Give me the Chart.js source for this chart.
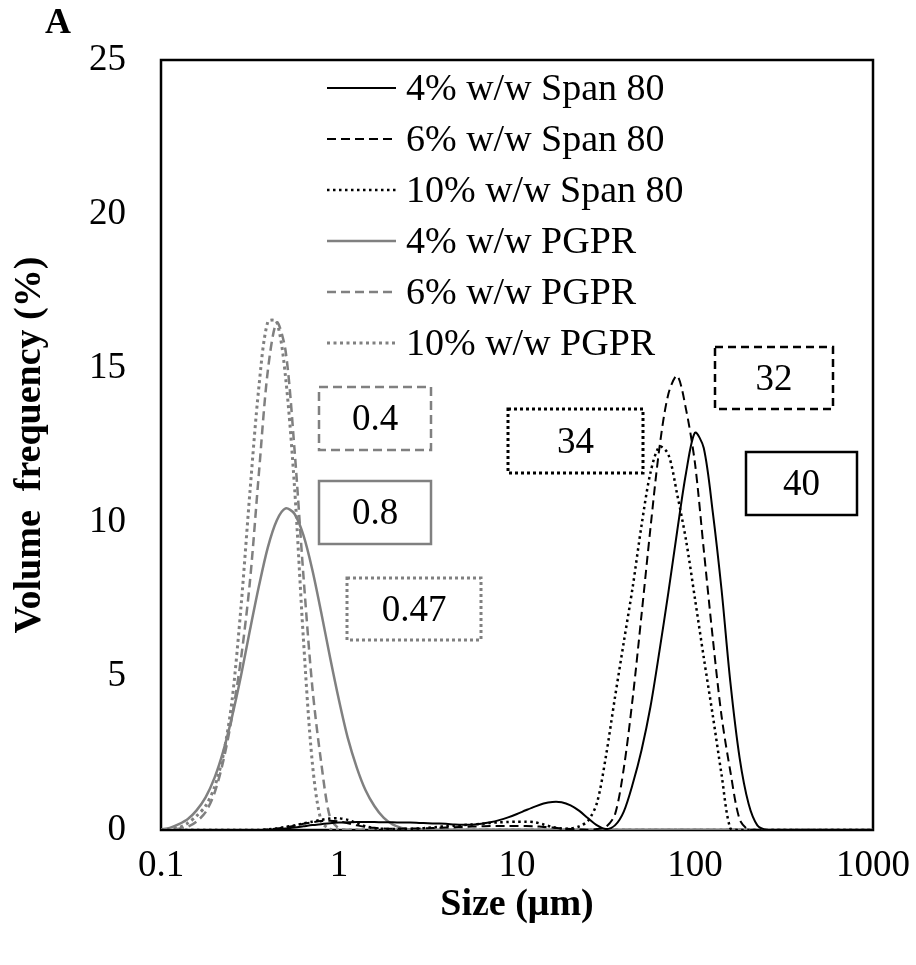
<!DOCTYPE html>
<html><head><meta charset="utf-8">
<script src="https://cdn.jsdelivr.net/npm/chart.js@4.4.1/dist/chart.umd.min.js"></script>
<style>html,body{margin:0;padding:0;background:#fff;}#wrap{width:916px;height:965px;position:relative;}</style>
</head><body><div id="wrap"><canvas id="c" width="916" height="965"></canvas></div>
<script>
// Particle size (µm), log-spaced bins
const sizes = [
  0.1,0.112,0.126,0.141,0.158,0.178,0.2,0.224,0.251,0.282,0.316,0.355,0.398,0.447,0.501,0.562,0.631,0.708,0.794,0.891,
  1,1.12,1.26,1.41,1.58,1.78,2,2.24,2.51,2.82,3.16,3.55,3.98,4.47,5.01,5.62,6.31,7.08,7.94,8.91,
  10,11.2,12.6,14.1,15.8,17.8,20,22.4,25.1,28.2,31.6,35.5,39.8,44.7,50.1,56.2,63.1,70.8,79.4,89.1,
  100,112,126,141,158,178,200,224,251,282,316,355,398,447,501,562,631,708,794,891,
  1000];

const span4 = [
  0,0,0,0,0,0,0,0,0,0,0,0,0.01,0.02,0.05,0.08,0.12,0.16,0.19,0.22,
  0.24,0.25,0.26,0.26,0.26,0.25,0.25,0.24,0.24,0.23,0.22,0.21,0.2,0.18,0.17,0.17,0.2,0.25,0.32,0.41,
  0.52,0.64,0.76,0.86,0.91,0.9,0.8,0.62,0.38,0.15,0.03,0.15,0.6,1.5,2.6,4.0,5.8,7.7,9.7,11.6,
  12.9,12.4,10.3,7.8,4.8,2.35,0.85,0.15,0,0,0,0,0,0,0,0,0,0,0,0,
  0];
const span6 = [
  0,0,0,0,0,0,0,0,0,0,0,0,0.02,0.05,0.09,0.14,0.2,0.25,0.29,0.3,
  0.28,0.22,0.15,0.1,0.07,0.05,0.04,0.04,0.05,0.05,0.06,0.07,0.08,0.09,0.1,0.11,0.12,0.13,0.13,0.13,
  0.13,0.13,0.12,0.1,0.08,0.05,0.03,0.02,0.01,0.03,0.1,0.5,2.0,4.3,7.0,9.8,12.4,14.15,14.75,13.65,
  11.9,9.1,6.2,3.7,1.9,0.35,0,0,0,0,0,0,0,0,0,0,0,0,0,0,
  0];
const span10 = [
  0,0,0,0,0,0,0,0,0,0,0,0,0.02,0.05,0.1,0.15,0.21,0.27,0.33,0.37,
  0.38,0.33,0.22,0.12,0.06,0.04,0.03,0.03,0.04,0.05,0.07,0.1,0.12,0.14,0.16,0.18,0.2,0.23,0.25,0.26,
  0.27,0.27,0.25,0.18,0.1,0.05,0.05,0.12,0.3,0.9,2.4,4.3,6.1,7.9,9.9,11.6,12.45,12.2,10.9,9.4,
  7.5,5.6,3.7,1.8,0.05,0,0,0,0,0,0,0,0,0,0,0,0,0,0,0,
  0];
const pgpr4 = [
  0.02,0.07,0.19,0.35,0.63,1.06,1.7,2.57,3.69,5.03,6.49,7.92,9.17,10.05,10.44,10.27,9.57,8.45,7.07,5.6,
  4.21,2.99,2.02,1.29,0.78,0.4,0.18,0.07,0.02,0,0,0,0,0,0,0,0,0,0,0,
  0,0,0,0,0,0,0,0,0,0,0,0,0,0,0,0,0,0,0,0,
  0,0,0,0,0,0,0,0,0,0,0,0,0,0,0,0,0,0,0,0,
  0];
const pgpr6 = [
  0,0.01,0.04,0.1,0.27,0.58,1.21,2.25,3.7,5.6,8.07,11.6,14.9,16.48,15.56,12.38,8.27,4.65,2.2,0.4,
  0.05,0,0,0,0,0,0,0,0,0,0,0,0,0,0,0,0,0,0,0,
  0,0,0,0,0,0,0,0,0,0,0,0,0,0,0,0,0,0,0,0,
  0,0,0,0,0,0,0,0,0,0,0,0,0,0,0,0,0,0,0,0,
  0];
const pgpr10 = [
  0,0.03,0.08,0.22,0.45,0.78,1.4,2.45,4.23,7.3,10.98,14.4,16.5,16.5,14.7,11.17,6.2,2.19,0.29,0.03,
  0,0,0,0,0,0,0,0,0,0,0,0,0,0,0,0,0,0,0,0,
  0,0,0,0,0,0,0,0,0,0,0,0,0,0,0,0,0,0,0,0,
  0,0,0,0,0,0,0,0,0,0,0,0,0,0,0,0,0,0,0,0,
  0];

const seriesLabels = ['4% w/w Span 80','6% w/w Span 80','10% w/w Span 80','4% w/w PGPR','6% w/w PGPR','10% w/w PGPR'];
const xTickValues = [0.1, 1, 10, 100, 1000];
const xTickLabels = ['0.1','1','10','100','1000'];
const yTickValues = [0, 5, 10, 15, 20, 25];
const d50Labels = ['40','32','34','0.8','0.4','0.47'];

const SERIF = "'Liberation Serif','Times New Roman',serif";
const BLACK = '#000000', GRAY = '#808080';

const styles = [
  {color: BLACK, width: 2, dash: []},
  {color: BLACK, width: 2, dash: [9, 5]},
  {color: BLACK, width: 2.5, dash: [2.5, 3.5]},
  {color: GRAY, width: 2.5, dash: []},
  {color: GRAY, width: 2.5, dash: [9, 5]},
  {color: GRAY, width: 3, dash: [3, 3.5]}
];
const values = [span4, span6, span10, pgpr4, pgpr6, pgpr10];

const datasets = values.map((arr, i) => ({
  label: seriesLabels[i],
  data: sizes.map((s, j) => ({x: s, y: arr[j]})),
  borderColor: styles[i].color,
  borderWidth: styles[i].width,
  borderDash: styles[i].dash,
  pointRadius: 0,
  fill: false,
  tension: 0.3
}));

// Label boxes: layout only (position/style); text comes from d50Labels
const boxLayout = [
  {x0: 746, y0: 452, x1: 857, y1: 515, color: BLACK, dash: [], w: 2.5},
  {x0: 715, y0: 347, x1: 833, y1: 409, color: BLACK, dash: [8, 5], w: 2.5},
  {x0: 508, y0: 409, x1: 643, y1: 473, color: BLACK, dash: [3, 3], w: 3},
  {x0: 319, y0: 481, x1: 431, y1: 544, color: GRAY, dash: [], w: 2.5},
  {x0: 319, y0: 387, x1: 431, y1: 450, color: GRAY, dash: [9, 5], w: 2.5},
  {x0: 347, y0: 578, x1: 481, y1: 640, color: GRAY, dash: [3, 3], w: 3}
];

const decor = {
  id: 'decor',
  beforeDatasetsDraw(chart) {
    const {ctx, chartArea: a} = chart;
    ctx.save();
    ctx.strokeStyle = '#000';
    ctx.lineWidth = 2.5;
    ctx.strokeRect(a.left, a.top, a.right - a.left, a.bottom - a.top);
    ctx.restore();
  },
  afterDatasetsDraw(chart) {
    const {ctx} = chart;
    ctx.save();
    const lx0 = 327, lx1 = 396, tx = 406, ly0 = 88, ldy = 51;
    ctx.font = '38px ' + SERIF;
    ctx.textBaseline = 'middle';
    ctx.textAlign = 'left';
    chart.data.datasets.forEach((ds, i) => {
      const y = ly0 + i * ldy;
      ctx.save();
      ctx.strokeStyle = ds.borderColor;
      ctx.lineWidth = ds.borderWidth;
      ctx.setLineDash(ds.borderDash || []);
      ctx.beginPath(); ctx.moveTo(lx0, y); ctx.lineTo(lx1, y); ctx.stroke();
      ctx.restore();
      ctx.fillStyle = '#000';
      ctx.fillText(ds.label, tx, y + 2);
    });
    boxLayout.forEach((b, i) => {
      ctx.save();
      ctx.strokeStyle = b.color;
      ctx.lineWidth = b.w;
      ctx.setLineDash(b.dash);
      ctx.strokeRect(b.x0, b.y0, b.x1 - b.x0, b.y1 - b.y0);
      ctx.restore();
      ctx.fillStyle = '#000';
      ctx.textAlign = 'center';
      ctx.font = '37px ' + SERIF;
      ctx.fillText(d50Labels[i], (b.x0 + b.x1) / 2, (b.y0 + b.y1) / 2 + 2);
    });
    ctx.textAlign = 'left';
    ctx.textBaseline = 'alphabetic';
    ctx.font = 'bold 36px ' + SERIF;
    ctx.fillText('A', 45, 33);
    ctx.restore();
  }
};

new Chart(document.getElementById('c'), {
  type: 'line',
  data: {datasets},
  options: {
    responsive: false,
    animation: false,
    devicePixelRatio: 1,
    layout: {padding: {top: 60, right: 43, bottom: 0, left: 0}},
    plugins: {legend: {display: false}, tooltip: {enabled: false}},
    scales: {
      x: {
        type: 'logarithmic',
        min: 0.1, max: 1000,
        afterBuildTicks: s => { s.ticks = xTickValues.map(v => ({value: v})); },
        afterFit: s => { s.height = 135; s.paddingRight = 0; s.paddingLeft = 0; },
        grid: {display: false, drawTicks: false},
        border: {display: false},
        ticks: {
          autoSkip: false, maxRotation: 0, padding: 14, color: '#000',
          font: {family: SERIF, size: 37},
          callback: (v) => { const k = xTickValues.indexOf(v); return k >= 0 ? xTickLabels[k] : ''; }
        },
        title: {display: true, text: 'Size (μm)', color: '#000',
          font: {family: SERIF, size: 38, weight: 'bold'}, padding: {top: 0, bottom: 37}}
      },
      y: {
        min: 0, max: 25,
        afterBuildTicks: s => { s.ticks = yTickValues.map(v => ({value: v})); },
        afterFit: s => { s.width = 161; s.paddingTop = 0; s.paddingBottom = 0; },
        grid: {display: false, drawTicks: false},
        border: {display: false},
        ticks: {padding: 35, color: '#000', font: {family: SERIF, size: 37}},
        title: {display: true, text: 'Volume  frequency (%)', color: '#000',
          font: {family: SERIF, size: 38, weight: 'bold'}, padding: {top: 7, bottom: 0}}
      }
    }
  },
  plugins: [decor]
});
</script></body></html>
